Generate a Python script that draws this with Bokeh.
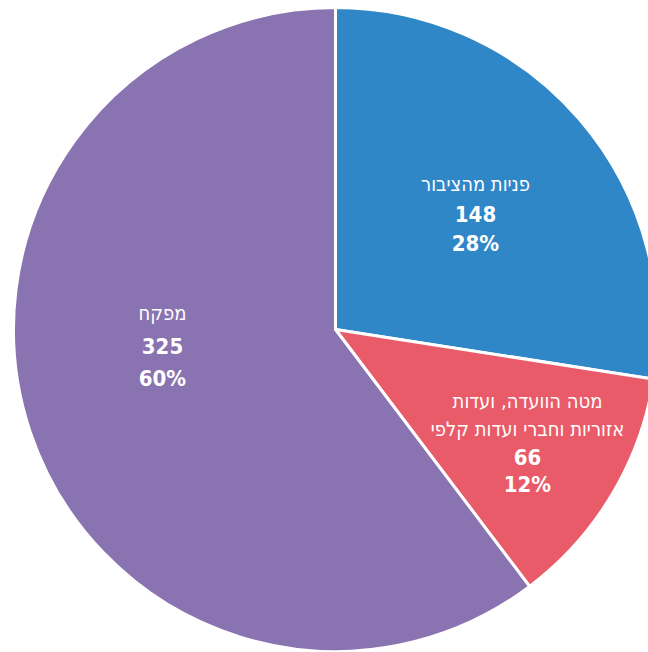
import math
from bokeh.plotting import figure
from bokeh.models import ColumnDataSource
from bokeh.core.properties import value
from bokeh.embed import file_html
from bokeh.resources import INLINE

categories = ["פניות מהציבור", "מטה הוועדה, ועדות\nאזוריות וחברי ועדות קלפי", "מפקח"]
counts = [148, 66, 325]
percents = ["28%", "12%", "60%"]
colors = ["#2F87C8", "#E95B68", "#8A73B1"]

W, H = 648, 652
CX, CY, R = 335, 652 - 329, 322

total = sum(counts)
starts, ends = [], []
a = math.pi / 2
for c in counts:
    starts.append(a)
    a -= 2 * math.pi * c / total
    ends.append(a)

p = figure(width=W, height=H, x_range=(0, W), y_range=(0, H),
           output_backend="svg", toolbar_location=None, min_border=0)
p.axis.visible = False
p.grid.visible = False
p.outline_line_color = None
p.background_fill_color = "white"
p.border_fill_color = "white"

src = ColumnDataSource(dict(x=[CX] * 3, y=[CY] * 3, start=starts, end=ends, color=colors))
p.wedge(x="x", y="y", radius=R, start_angle="start", end_angle="end", direction="clock",
        fill_color="color", line_color="white", line_width=3, source=src)

# label anchors (offset from centre, pixels) and line spacing per slice
anchors = [(140, 116, 30), (192, -113, 28), (-173, -16, 33)]
xs, ys, txt, sizes, styles = [], [], [], [], []
for i, cat in enumerate(categories):
    lines = cat.split("\n")
    allines = [(l, "20px", "normal") for l in lines] + [(str(counts[i]), "22px", "bold"),
                                                        (percents[i], "22px", "bold")]
    dx, dy, sp = anchors[i]
    n = len(allines)
    for j, (t, s, st) in enumerate(allines):
        xs.append(CX + dx)
        ys.append(CY + dy + (n - 1) / 2 * sp - j * sp)
        txt.append(t)
        sizes.append(s)
        styles.append(st)

tsrc = ColumnDataSource(dict(x=xs, y=ys, text=txt, size=sizes, style=styles))
p.text(x="x", y="y", text="text", text_font_size="size", source=tsrc,
       text_font=value("DejaVu Sans Condensed"), text_font_style="style", text_color="white",
       text_align="center", text_baseline="middle")

open("out.html", "w").write(file_html(p, INLINE))
